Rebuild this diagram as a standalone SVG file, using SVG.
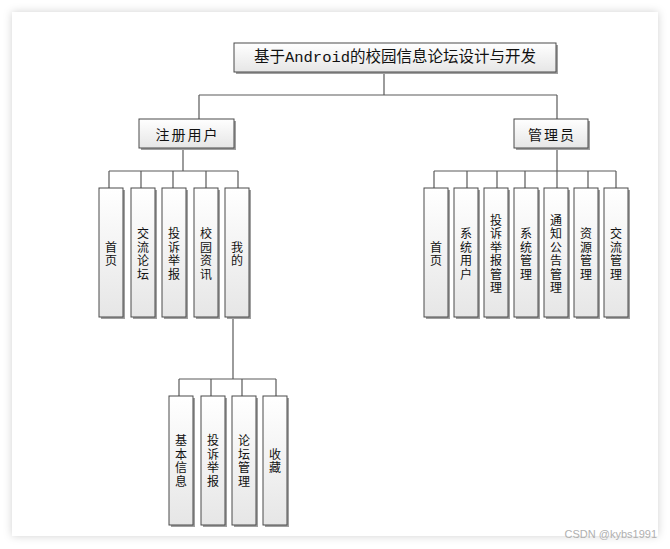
<svg xmlns="http://www.w3.org/2000/svg" width="670" height="549" viewBox="0 0 670 549">
<defs>
<linearGradient id="g" x1="0" y1="0" x2="0" y2="1">
<stop offset="0" stop-color="#ffffff"/>
<stop offset="1" stop-color="#e6e6e6"/>
</linearGradient>
<filter id="pg" x="-5%" y="-5%" width="110%" height="110%">
<feDropShadow dx="0" dy="0" stdDeviation="4" flood-color="#000" flood-opacity="0.18"/>
</filter>
</defs>
<style>
.sh{fill:#a0a0a0;}
.bx{fill:url(#g);stroke:#4a4a4a;stroke-width:1;}
.t{font-family:"Noto Sans CJK SC","Liberation Sans",sans-serif;font-size:12px;fill:#111;text-anchor:middle;dominant-baseline:central;}
.h{font-family:"Noto Sans CJK SC","Liberation Sans",sans-serif;font-size:14px;fill:#111;text-anchor:middle;dominant-baseline:central;letter-spacing:2px;}
.ti{font-family:"Liberation Mono","Noto Sans CJK SC",monospace;font-size:15.5px;fill:#111;text-anchor:middle;dominant-baseline:central;}
.c{fill:none;stroke:#5a5a5a;stroke-width:1.2;}
</style>
<rect width="670" height="549" fill="#ffffff"/>
<rect x="12" y="12" width="646" height="524" fill="#ffffff" filter="url(#pg)"/>

<g id="connectors">
<path class="c" d="M384,72V95M199,95H557M199,95V119M557,95V119"/>
<path class="c" d="M183,148V171M109,171H238M109,171V188M141,171V188M173,171V188M206,171V188M238,171V188"/>
<path class="c" d="M557,148V171M434,171H616M434,171V188M467,171V188M497,171V188M525,171V188M557,171V188M588,171V188M616,171V188"/>
<path class="c" d="M233,317V379M179,379H276M179,379V396M211,379V396M242,379V396M276,379V396"/>
</g>

<g id="root">
<rect class="sh" x="236" y="45" width="322" height="29"/>
<rect class="bx" x="234" y="43" width="322" height="29"/>
<text class="ti" x="395" y="57.5">基于Android的校园信息论坛设计与开发</text>
</g>

<g id="user">
<rect class="sh" x="141" y="121" width="95" height="29"/>
<rect class="bx" x="139" y="119" width="95" height="29"/>
<text class="h" x="187.5" y="133.5">注册用户</text>
</g>

<g id="admin">
<rect class="sh" x="516" y="121" width="74" height="29"/>
<rect class="bx" x="514" y="119" width="74" height="29"/>
<text class="h" x="552" y="133.5">管理员</text>
</g>

<!-- user children -->
<g id="u1"><rect class="sh" x="101" y="190" width="24" height="129"/><rect class="bx" x="99" y="188" width="24" height="129"/>
<text class="t" x="111"><tspan x="111" y="245.75">首</tspan><tspan x="111" y="259.25">页</tspan></text></g>
<g id="u2"><rect class="sh" x="133" y="190" width="24" height="129"/><rect class="bx" x="131" y="188" width="24" height="129"/>
<text class="t"><tspan x="143" y="232.25">交</tspan><tspan x="143" y="245.75">流</tspan><tspan x="143" y="259.25">论</tspan><tspan x="143" y="272.75">坛</tspan></text></g>
<g id="u3"><rect class="sh" x="164" y="190" width="24" height="129"/><rect class="bx" x="162" y="188" width="24" height="129"/>
<text class="t"><tspan x="174" y="232.25">投</tspan><tspan x="174" y="245.75">诉</tspan><tspan x="174" y="259.25">举</tspan><tspan x="174" y="272.75">报</tspan></text></g>
<g id="u4"><rect class="sh" x="196" y="190" width="24" height="129"/><rect class="bx" x="194" y="188" width="24" height="129"/>
<text class="t"><tspan x="206" y="232.25">校</tspan><tspan x="206" y="245.75">园</tspan><tspan x="206" y="259.25">资</tspan><tspan x="206" y="272.75">讯</tspan></text></g>
<g id="u5"><rect class="sh" x="227" y="190" width="24" height="129"/><rect class="bx" x="225" y="188" width="24" height="129"/>
<text class="t"><tspan x="237" y="245.75">我</tspan><tspan x="237" y="259.25">的</tspan></text></g>

<!-- admin children -->
<g id="a1"><rect class="sh" x="426" y="190" width="24" height="129"/><rect class="bx" x="424" y="188" width="24" height="129"/>
<text class="t"><tspan x="436" y="245.75">首</tspan><tspan x="436" y="259.25">页</tspan></text></g>
<g id="a2"><rect class="sh" x="456" y="190" width="24" height="129"/><rect class="bx" x="454" y="188" width="24" height="129"/>
<text class="t"><tspan x="466" y="232.25">系</tspan><tspan x="466" y="245.75">统</tspan><tspan x="466" y="259.25">用</tspan><tspan x="466" y="272.75">户</tspan></text></g>
<g id="a3"><rect class="sh" x="486" y="190" width="24" height="129"/><rect class="bx" x="484" y="188" width="24" height="129"/>
<text class="t"><tspan x="496" y="218.75">投</tspan><tspan x="496" y="232.25">诉</tspan><tspan x="496" y="245.75">举</tspan><tspan x="496" y="259.25">报</tspan><tspan x="496" y="272.75">管</tspan><tspan x="496" y="286.25">理</tspan></text></g>
<g id="a4"><rect class="sh" x="516" y="190" width="24" height="129"/><rect class="bx" x="514" y="188" width="24" height="129"/>
<text class="t"><tspan x="526" y="232.25">系</tspan><tspan x="526" y="245.75">统</tspan><tspan x="526" y="259.25">管</tspan><tspan x="526" y="272.75">理</tspan></text></g>
<g id="a5"><rect class="sh" x="546" y="190" width="24" height="129"/><rect class="bx" x="544" y="188" width="24" height="129"/>
<text class="t"><tspan x="556" y="218.75">通</tspan><tspan x="556" y="232.25">知</tspan><tspan x="556" y="245.75">公</tspan><tspan x="556" y="259.25">告</tspan><tspan x="556" y="272.75">管</tspan><tspan x="556" y="286.25">理</tspan></text></g>
<g id="a6"><rect class="sh" x="576" y="190" width="24" height="129"/><rect class="bx" x="574" y="188" width="24" height="129"/>
<text class="t"><tspan x="586" y="232.25">资</tspan><tspan x="586" y="245.75">源</tspan><tspan x="586" y="259.25">管</tspan><tspan x="586" y="272.75">理</tspan></text></g>
<g id="a7"><rect class="sh" x="606" y="190" width="24" height="129"/><rect class="bx" x="604" y="188" width="24" height="129"/>
<text class="t"><tspan x="616" y="232.25">交</tspan><tspan x="616" y="245.75">流</tspan><tspan x="616" y="259.25">管</tspan><tspan x="616" y="272.75">理</tspan></text></g>

<!-- my children -->
<g id="m1"><rect class="sh" x="171" y="398" width="24" height="129"/><rect class="bx" x="169" y="396" width="24" height="129"/>
<text class="t"><tspan x="181" y="439.25">基</tspan><tspan x="181" y="452.75">本</tspan><tspan x="181" y="466.25">信</tspan><tspan x="181" y="479.75">息</tspan></text></g>
<g id="m2"><rect class="sh" x="203" y="398" width="24" height="129"/><rect class="bx" x="201" y="396" width="24" height="129"/>
<text class="t"><tspan x="213" y="439.25">投</tspan><tspan x="213" y="452.75">诉</tspan><tspan x="213" y="466.25">举</tspan><tspan x="213" y="479.75">报</tspan></text></g>
<g id="m3"><rect class="sh" x="234" y="398" width="24" height="129"/><rect class="bx" x="232" y="396" width="24" height="129"/>
<text class="t"><tspan x="244" y="439.25">论</tspan><tspan x="244" y="452.75">坛</tspan><tspan x="244" y="466.25">管</tspan><tspan x="244" y="479.75">理</tspan></text></g>
<g id="m4"><rect class="sh" x="265" y="398" width="24" height="129"/><rect class="bx" x="263" y="396" width="24" height="129"/>
<text class="t"><tspan x="275" y="452.75">收</tspan><tspan x="275" y="466.25">藏</tspan></text></g>

<text x="657" y="538" font-family="'Liberation Sans',sans-serif" font-size="11" fill="#b0b0b0" text-anchor="end">CSDN @kybs1991</text>
</svg>
